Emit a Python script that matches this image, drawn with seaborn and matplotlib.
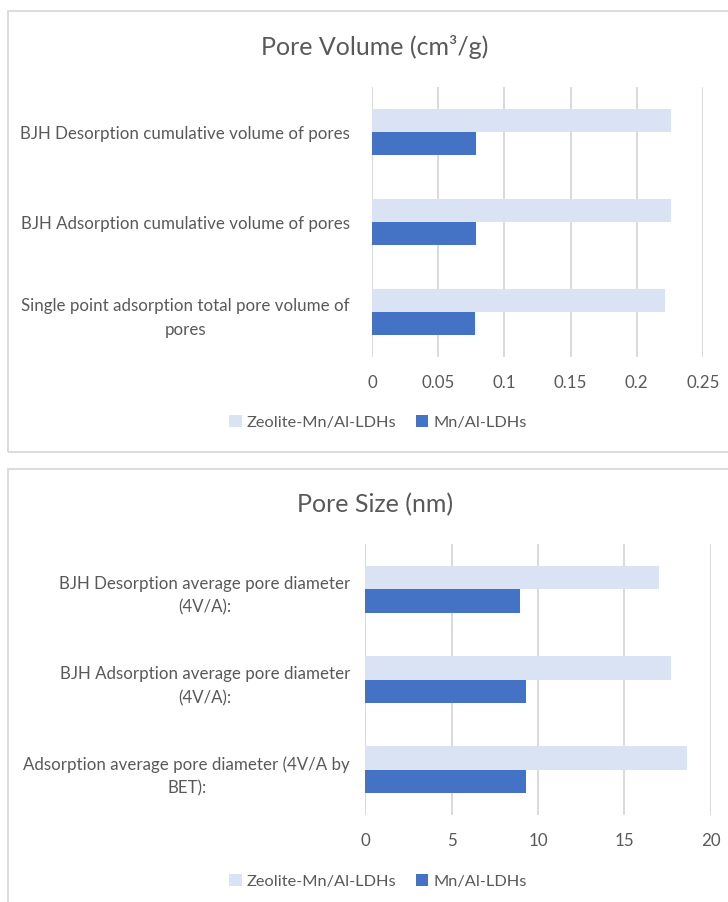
import matplotlib
matplotlib.use("Agg")
import matplotlib.pyplot as plt
from matplotlib.patches import Rectangle, Patch
import pandas as pd
import seaborn as sns

# ---- data ----
series_names = ["Zeolite-Mn/Al-LDHs", "Mn/Al-LDHs"]
series_colors = ["#DAE3F3", "#4472C4"]

volume_categories = [
    "BJH Desorption cumulative volume of pores",
    "BJH Adsorption cumulative volume of pores",
    "Single point adsorption total pore volume of\npores",
]
volume_zeolite = [0.226, 0.226, 0.221]
volume_mnal = [0.0785, 0.0785, 0.078]
volume_ticks = [0, 0.05, 0.1, 0.15, 0.2, 0.25]
volume_ticklabels = ["0", "0.05", "0.1", "0.15", "0.2", "0.25"]

size_categories = [
    "BJH Desorption average pore diameter\n(4V/A):",
    "BJH Adsorption average pore diameter\n(4V/A):",
    "Adsorption average pore diameter (4V/A by\nBET):",
]
size_zeolite = [17.0, 17.7, 18.6]
size_mnal = [8.95, 9.3, 9.3]
size_ticks = [0, 5, 10, 15, 20]
size_ticklabels = ["0", "5", "10", "15", "20"]

titles = ["Pore Volume (cm\u00b3/g)", "Pore Size (nm)"]

# ---- style ----
sns.set_style("white")
plt.rcParams["font.family"] = ["Lato", "DejaVu Sans"]
TEXT = "#595959"
GRID = "#D9D9D9"
LABEL_SIZE = 12.2

W, H = 728, 903
fig = plt.figure(figsize=(W / 100, H / 100), dpi=100)


def fx(px):
    return px / W


def fy(py):
    return 1 - py / H


def long_frame(cats, zeo, mn):
    rows = []
    for c, a, b in zip(cats, zeo, mn):
        rows.append({"category": c, "series": series_names[0], "value": a})
        rows.append({"category": c, "series": series_names[1], "value": b})
    return pd.DataFrame(rows)


def draw_panel(box, ax_box, title_y, legend_y, cats, zeo, mn, xmax, ticks, ticklabels, title, ypad):
    # chart-area border
    x0, y0, x1, y1 = box
    fig.patches.append(Rectangle((fx(x0), fy(y1)), fx(x1 - x0), (y1 - y0) / H,
                                 transform=fig.transFigure, fill=False,
                                 edgecolor=GRID, linewidth=1.3, zorder=0))
    l, t, r, b = ax_box
    ax = fig.add_axes([fx(l), fy(b), fx(r - l), (b - t) / H])
    df = long_frame(cats, zeo, mn)
    sns.barplot(data=df, x="value", y="category", hue="series",
                hue_order=series_names, palette=series_colors, order=cats,
                orient="h", width=0.52, linewidth=0, saturation=1, ax=ax,
                legend=False, errorbar=None, zorder=3)
    ax.set_xlim(0, xmax)
    ax.set_ylim(2.5, -0.5)
    ax.set_xticks(ticks)
    ax.set_xticklabels(ticklabels)
    ax.set_xlabel("")
    ax.set_ylabel("")
    for s in ax.spines.values():
        s.set_visible(False)
    ax.grid(axis="x", color=GRID, linewidth=1.4)
    ax.grid(axis="y", visible=False)
    ax.set_axisbelow(True)
    ax.tick_params(axis="both", length=0, colors=TEXT, labelsize=LABEL_SIZE)
    ax.tick_params(axis="x", pad=12)
    ax.tick_params(axis="y", pad=ypad)
    for lab in ax.get_yticklabels():
        lab.set_multialignment("center")
        lab.set_linespacing(1.6)
    fig.text(fx(375), fy(title_y), title, ha="center", va="center",
             fontsize=18, color=TEXT)
    handles = [Patch(facecolor=c, edgecolor="none") for c in series_colors]
    fig.legend(handles, series_names, loc="center", bbox_to_anchor=(fx(378), fy(legend_y)),
               ncol=2, frameon=False, fontsize=11.8, labelcolor=TEXT,
               handlelength=0.75, handleheight=0.75, handletextpad=0.3,
               columnspacing=1.2)
    return ax


draw_panel((8, 12, 745, 453), (372, 88, 703, 358), 47, 423,
           volume_categories, volume_zeolite, volume_mnal, 0.25,
           volume_ticks, volume_ticklabels, titles[0], 16)
draw_panel((8, 470, 745, 920), (365.3, 545, 710.7, 816), 505, 882,
           size_categories, size_zeolite, size_mnal, 20,
           size_ticks, size_ticklabels, titles[1], 11)

fig.savefig("out.png", dpi=100)
